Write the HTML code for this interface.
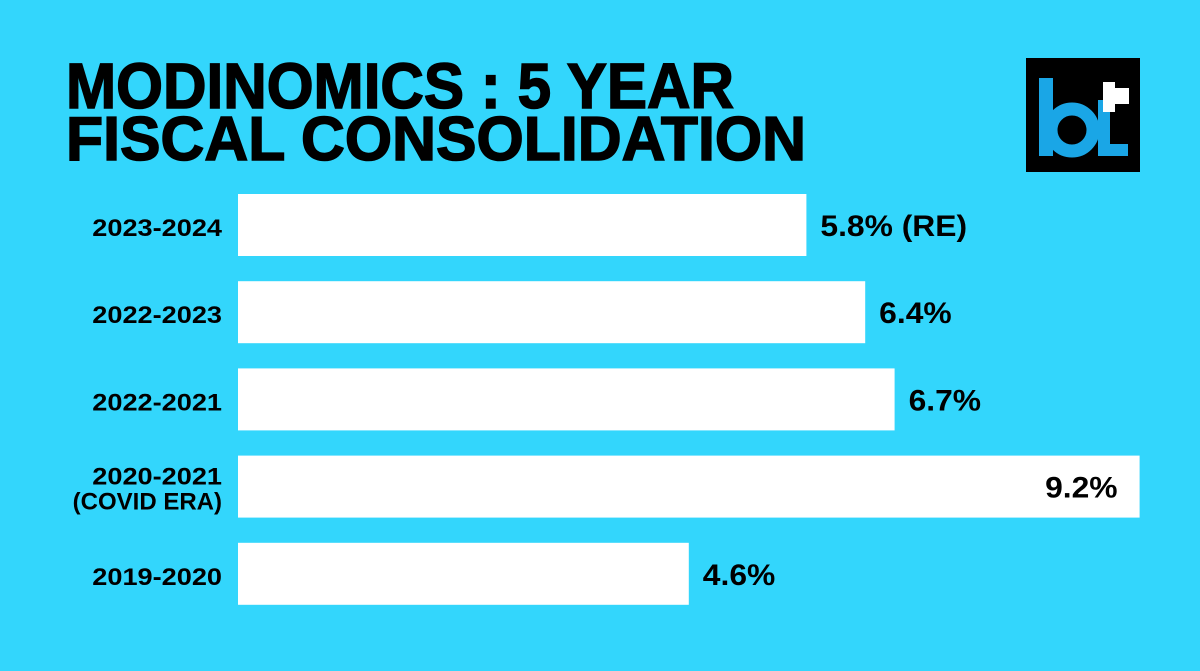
<!DOCTYPE html>
<html><head><meta charset="utf-8"><style>
html,body{margin:0;padding:0;background:#33d6fc;}
svg{display:block;font-family:"Liberation Sans",sans-serif;}
</style></head><body>
<svg id="c" width="1200" height="671" viewBox="0 0 1200 671">
<rect width="1200" height="671" fill="#33d6fc"/>
<text x="66" y="108" font-size="64" font-weight="900" fill="#000" stroke="#000" stroke-width="1.5" textLength="668" lengthAdjust="spacingAndGlyphs">MODINOMICS : 5 YEAR</text>
<text x="66" y="160" font-size="62" font-weight="900" fill="#000" stroke="#000" stroke-width="1.5" textLength="740" lengthAdjust="spacingAndGlyphs">FISCAL CONSOLIDATION</text>
<g>
<rect x="1026" y="58" width="114" height="114" fill="#000"/>
<rect x="1039" y="78" width="14" height="78" fill="#1aa6e6"/>
<circle cx="1072" cy="130" r="21" fill="none" stroke="#1aa6e6" stroke-width="13"/>
<rect x="1098" y="100" width="12" height="56" fill="#1aa6e6"/>
<rect x="1098" y="144" width="30" height="12" fill="#1aa6e6"/>
<rect x="1103" y="82" width="12" height="30" fill="#fff"/>
<rect x="1103" y="88" width="26" height="16" fill="#fff"/>
</g>
<g id="bars"></g>
</svg>
<script>
const categories=["2023-2024","2022-2023","2022-2021","2020-2021","2019-2020"];
const subLabels=["","","","(COVID ERA)",""];
const values=[5.8,6.4,6.7,9.2,4.6];
const valueLabels=["5.8% (RE)","6.4%","6.7%","9.2%","4.6%"];
const x0=238, pxPerUnit=98, top0=194, step=87.2, barH=62;
const xs=v=>x0+v*pxPerUnit;
const ys=i=>top0+i*step;
const g=document.getElementById('bars');
const NS="http://www.w3.org/2000/svg";
function stretch(el,f){const w=el.getComputedTextLength();el.setAttribute('textLength',w*f);el.setAttribute('lengthAdjust','spacingAndGlyphs');}
values.forEach((v,i)=>{
  const y=ys(i);
  const r=document.createElementNS(NS,'rect');
  r.setAttribute('x',x0);r.setAttribute('y',y);r.setAttribute('width',xs(v)-x0);r.setAttribute('height',barH);r.setAttribute('fill','#fff');
  
  
  g.appendChild(r);
  const l=document.createElementNS(NS,'text');
  l.setAttribute('x',222);l.setAttribute('text-anchor','end');l.setAttribute('font-size','24');l.setAttribute('font-weight','bold');
  if(subLabels[i]){
    l.setAttribute('y',y+29);l.textContent=categories[i];
    const s=document.createElementNS(NS,'text');
    s.setAttribute('x',222);s.setAttribute('y',y+54);s.setAttribute('text-anchor','end');s.setAttribute('font-size','24');s.setAttribute('font-weight','bold');
    s.textContent=subLabels[i];
    
    
    g.appendChild(s);
    stretch(s,1.0);
  } else {l.setAttribute('y',y+42);l.textContent=categories[i];}
  
  
  g.appendChild(l);
  stretch(l,1.13);
  const t=document.createElementNS(NS,'text');
  const inside=xs(v)>1100;
  t.setAttribute('x',inside?xs(v)-22:xs(v)+14);
  t.setAttribute('text-anchor',inside?'end':'start');
  t.setAttribute('y',y+42);t.setAttribute('font-size','30');t.setAttribute('font-weight','bold');
  t.textContent=valueLabels[i];
  
  
  g.appendChild(t);
  stretch(t,1.06);
});
</script>
</body></html>
